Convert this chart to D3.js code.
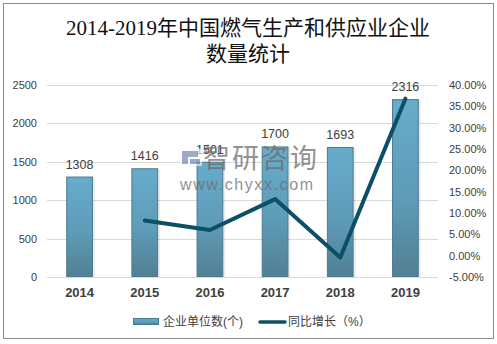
<!DOCTYPE html>
<html><head><meta charset="utf-8">
<script src="https://cdn.jsdelivr.net/npm/d3@7"></script>
<style>
html,body{margin:0;padding:0;background:#fff;}
svg{display:block;}
</style></head>
<body>
<svg id="chart" width="497" height="344"></svg>
<script>
const titleLines = ["2014-2019年中国燃气生产和供应业企业", "数量统计"];
const years = ["2014", "2015", "2016", "2017", "2018", "2019"];
const counts = [1308, 1416, 1501, 1700, 1693, 2316];
const growth = [null, 8.26, 6.00, 13.26, -0.41, 36.80];
const leftTicks = [0, 500, 1000, 1500, 2000, 2500];
const rightTicks = [-5, 0, 5, 10, 15, 20, 25, 30, 35, 40];
const legendLabels = ["企业单位数(个)", "同比增长（%）"];

const svg = d3.select("#chart");
const sans = "'Liberation Sans','Noto Sans CJK SC',sans-serif";
const serif = "'Liberation Serif','Noto Sans CJK SC',serif";

const m = {left: 47, right: 438, top: 85, bottom: 277};
const x = d3.scaleBand().domain(years).range([m.left, m.right]).paddingInner(0.59).paddingOuter(0.295);
const xc = d3.scaleBand().domain(years).range([m.left, m.right]);
const yL = d3.scaleLinear().domain([0, 2500]).range([m.bottom, m.top]);
const yR = d3.scaleLinear().domain([-5, 40]).range([m.bottom, m.top]);

// border
svg.append("rect").attr("x", 3.5).attr("y", 3.5).attr("width", 490).attr("height", 335)
  .attr("fill", "#fff").attr("stroke", "#8c8c8c").attr("stroke-width", 1);

// title
svg.append("text").attr("x", 248).attr("y", 35).attr("text-anchor", "middle")
  .attr("font-family", serif).attr("font-size", 21).attr("fill", "#111").text(titleLines[0]);
svg.append("text").attr("x", 248).attr("y", 61).attr("text-anchor", "middle")
  .attr("font-family", serif).attr("font-size", 21).attr("fill", "#111").text(titleLines[1]);

// gridlines
svg.append("g").selectAll("line").data(leftTicks).join("line")
  .attr("x1", m.left).attr("x2", m.right)
  .attr("y1", d => Math.round(yL(d)) + 0.5).attr("y2", d => Math.round(yL(d)) + 0.5)
  .attr("stroke", "#d9d9d9").attr("stroke-width", 1);

// left axis
const gl = svg.append("g").attr("transform", `translate(37,0)`)
  .call(d3.axisLeft(yL).tickValues(leftTicks).tickSize(0).tickPadding(0).tickFormat(d3.format("d")));
gl.select(".domain").remove();
gl.selectAll("text").attr("font-family", sans).attr("font-size", 11).attr("fill", "#404040");

// right axis
const gr = svg.append("g").attr("transform", `translate(449,0)`)
  .call(d3.axisRight(yR).tickValues(rightTicks).tickSize(0).tickPadding(0).tickFormat(d => d.toFixed(2) + "%"));
gr.select(".domain").remove();
gr.selectAll("text").attr("font-family", sans).attr("font-size", 11).attr("fill", "#404040");

// bottom axis
const gb = svg.append("g").attr("transform", `translate(0,${m.bottom})`)
  .call(d3.axisBottom(xc).tickSize(0).tickPadding(11));
gb.select(".domain").remove();
gb.selectAll("text").attr("font-family", sans).attr("font-size", 13).attr("font-weight", "bold").attr("fill", "#404040");

// gradient
const defs = svg.append("defs");
const grad = defs.append("linearGradient").attr("id", "barGrad").attr("x1", 0).attr("y1", 0).attr("x2", 0).attr("y2", 1);
grad.append("stop").attr("offset", "0%").attr("stop-color", "#68abcb");
grad.append("stop").attr("offset", "55%").attr("stop-color", "#5e9cb8");
grad.append("stop").attr("offset", "100%").attr("stop-color", "#527f93");

// bar shadows
svg.append("g").selectAll("rect").data(counts).join("rect")
  .attr("x", (d, i) => x(years[i]) + 2).attr("y", d => yL(d) + 1)
  .attr("width", x.bandwidth()).attr("height", d => yL(0) - yL(d) - 1)
  .attr("fill", "#000").attr("opacity", 0.08);

// bars
svg.append("g").selectAll("rect").data(counts).join("rect")
  .attr("x", (d, i) => x(years[i]) + 0.5).attr("y", d => yL(d) + 0.5)
  .attr("width", x.bandwidth() - 1).attr("height", d => yL(0) - yL(d) - 1)
  .attr("fill", "url(#barGrad)").attr("stroke", "#4b7a8f").attr("stroke-width", 1);

// data labels
svg.append("g").selectAll("text").data(counts).join("text")
  .attr("x", (d, i) => x(years[i]) + x.bandwidth() / 2).attr("y", d => yL(d) - 8)
  .attr("text-anchor", "middle").attr("font-family", sans).attr("font-size", 12.5)
  .attr("fill", "#404040").text(d => d);

// watermark
const wm = svg.append("g").attr("opacity", 0.75);
wm.append("rect").attr("x", 180).attr("y", 149).attr("width", 22).attr("height", 17).attr("fill", "#fff").attr("opacity", 0.8);
wm.append("path").attr("d", "M182,151 h16 v6 h-10 v7 h-6 z M190,159 h10 v5 h-10 z")
  .attr("fill", "#7b8fb8");
wm.append("text").attr("x", 203).attr("y", 168).attr("font-family", sans).attr("font-size", 27)
  .attr("fill", "#6e6e6e").attr("letter-spacing", 2).text("智研咨询");
wm.append("text").attr("x", 180).attr("y", 190).attr("font-family", sans).attr("font-size", 16)
  .attr("fill", "#6e6e6e").attr("letter-spacing", 1.6).text("www.chyxx.com");

// line
const linePts = growth.map((g, i) => ({g, yr: years[i]})).filter(d => d.g !== null);
const line = d3.line().x(d => xc(d.yr) + xc.bandwidth() / 2).y(d => yR(d.g));
svg.append("path").datum(linePts).attr("d", line)
  .attr("fill", "none").attr("stroke", "#0b5068").attr("stroke-width", 4)
  .attr("stroke-linejoin", "round").attr("stroke-linecap", "round");

// legend
const lg = svg.append("g");
lg.append("rect").attr("x", 133.5).attr("y", 318.5).attr("width", 25).attr("height", 6)
  .attr("fill", "url(#barGrad)").attr("stroke", "#4b7a8f");
lg.append("text").attr("x", 163).attr("y", 326).attr("font-family", sans).attr("font-size", 12)
  .attr("fill", "#404040").text(legendLabels[0]);
lg.append("line").attr("x1", 260).attr("x2", 285).attr("y1", 322).attr("y2", 322)
  .attr("stroke", "#0b5068").attr("stroke-width", 3.5).attr("stroke-linecap", "round");
lg.append("text").attr("x", 288).attr("y", 326).attr("font-family", sans).attr("font-size", 12)
  .attr("fill", "#404040").text(legendLabels[1]);
</script>
</body></html>
